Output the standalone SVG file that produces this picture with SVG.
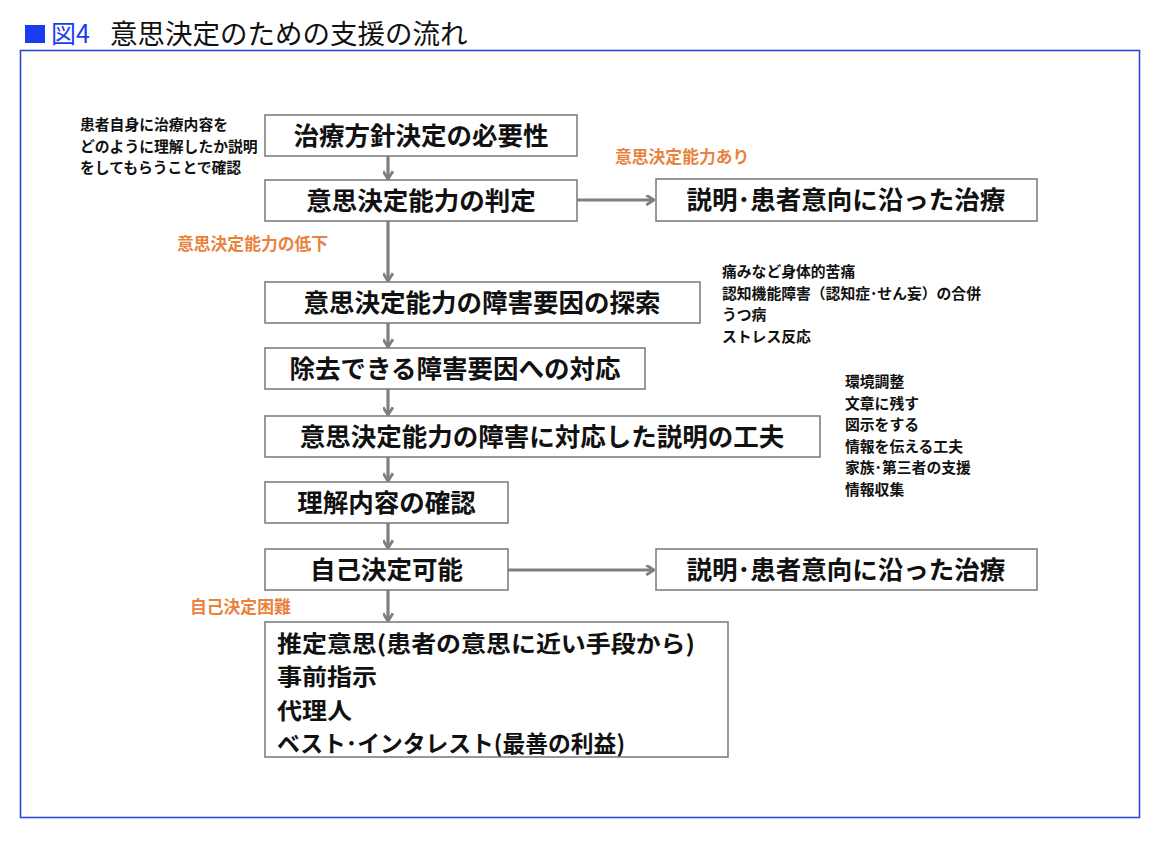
<svg xmlns="http://www.w3.org/2000/svg" width="1166" height="842" viewBox="0 0 1166 842">
<style>
text{font-family:"Noto Sans CJK JP","Noto Sans CJK SC",sans-serif}
.box{fill:#fff;stroke:#7f7f7f;stroke-width:1.6}
.bt{font-size:25.5px;font-weight:bold;fill:#111;text-anchor:middle}
.bl{font-size:23px;font-weight:bold;fill:#111}
.note{font-size:14.8px;font-weight:bold;fill:#111}
.lab{font-size:16.8px;font-weight:bold;fill:#e8823c}
.con{stroke:#7f7f7f;stroke-width:3.2;fill:none}
</style>
<defs>
<marker id="ah" viewBox="0 0 10 10" refX="9" refY="5" markerWidth="11" markerHeight="11" markerUnits="userSpaceOnUse" orient="auto">
<path d="M2,0.5 L9,5 L2,9.5" fill="none" stroke="#7f7f7f" stroke-width="2.6"/>
</marker>
</defs>
<rect width="1166" height="842" fill="#fff"/>
<g id="title">
<rect x="25" y="25" width="20" height="18" fill="#1a3cf0"/>
<text x="51" y="43" font-size="25" fill="#1a3cf0">図4</text>
<text x="110" y="44" font-size="27.5" fill="#111">意思決定のための支援の流れ</text>
</g>
<rect id="frame" x="20.5" y="50.5" width="1119" height="767" fill="none" stroke="#2a4bd7" stroke-width="1.6"/>
<g id="connectors">
<line class="con" x1="388" y1="156" x2="388" y2="179" marker-end="url(#ah)"/>
<line class="con" x1="388" y1="221" x2="388" y2="281" marker-end="url(#ah)"/>
<line class="con" x1="388" y1="323" x2="388" y2="347" marker-end="url(#ah)"/>
<line class="con" x1="388" y1="389" x2="388" y2="415" marker-end="url(#ah)"/>
<line class="con" x1="388" y1="457" x2="388" y2="481" marker-end="url(#ah)"/>
<line class="con" x1="388" y1="523" x2="388" y2="548" marker-end="url(#ah)"/>
<line class="con" x1="388" y1="590" x2="388" y2="621" marker-end="url(#ah)"/>
<line class="con" x1="577" y1="200" x2="654" y2="200" marker-end="url(#ah)"/>
<line class="con" x1="508" y1="570" x2="654" y2="570" marker-end="url(#ah)"/>
</g>
<g id="n1"><rect class="box" x="265" y="115" width="312" height="41"/><text class="bt" x="421" y="144.5">治療方針決定の必要性</text></g>
<g id="n2"><rect class="box" x="265" y="180" width="312" height="41"/><text class="bt" x="421" y="209.5">意思決定能力の判定</text></g>
<g id="n3"><rect class="box" x="656" y="179" width="381" height="42"/><text class="bt" x="846" y="209">説明･患者意向に沿った治療</text></g>
<g id="n4"><rect class="box" x="265" y="282" width="435" height="41"/><text class="bt" x="482" y="311.5">意思決定能力の障害要因の探索</text></g>
<g id="n5"><rect class="box" x="265" y="348" width="380" height="41"/><text class="bt" x="455" y="377.5">除去できる障害要因への対応</text></g>
<g id="n6"><rect class="box" x="265" y="416" width="555" height="41"/><text class="bt" x="542" y="445.5">意思決定能力の障害に対応した説明の工夫</text></g>
<g id="n7"><rect class="box" x="265" y="482" width="243" height="41"/><text class="bt" x="386.5" y="511.5">理解内容の確認</text></g>
<g id="n8"><rect class="box" x="265" y="549" width="243" height="41"/><text class="bt" x="386.5" y="578.5">自己決定可能</text></g>
<g id="n9"><rect class="box" x="656" y="549" width="381" height="41"/><text class="bt" x="846" y="578.5">説明･患者意向に沿った治療</text></g>
<g id="n10"><rect class="box" x="265" y="622" width="463" height="135"/>
<text class="bl" x="277" y="651.5" textLength="418" lengthAdjust="spacingAndGlyphs">推定意思(患者の意思に近い手段から)</text>
<text class="bl" x="277" y="685" textLength="100" lengthAdjust="spacingAndGlyphs">事前指示</text>
<text class="bl" x="277" y="718.5" textLength="75" lengthAdjust="spacingAndGlyphs">代理人</text>
<text class="bl" x="277" y="752" textLength="348" lengthAdjust="spacingAndGlyphs">ベスト･インタレスト(最善の利益)</text>
</g>
<g id="labels">
<text class="lab" x="615" y="162.5">意思決定能力あり</text>
<text class="lab" x="177" y="250">意思決定能力の低下</text>
<text class="lab" x="190" y="613">自己決定困難</text>
</g>
<g id="note-left">
<text class="note" x="80" y="130">患者自身に治療内容を</text>
<text class="note" x="80" y="151.6">どのように理解したか説明</text>
<text class="note" x="80" y="173.2">をしてもらうことで確認</text>
</g>
<g id="note-factors">
<text class="note" x="722" y="277">痛みなど身体的苦痛</text>
<text class="note" x="722" y="298.6">認知機能障害（認知症･せん妄）の合併</text>
<text class="note" x="722" y="320.2">うつ病</text>
<text class="note" x="722" y="341.8">ストレス反応</text>
</g>
<g id="note-methods">
<text class="note" x="845" y="387">環境調整</text>
<text class="note" x="845" y="408.6">文章に残す</text>
<text class="note" x="845" y="430.2">図示をする</text>
<text class="note" x="845" y="451.8">情報を伝える工夫</text>
<text class="note" x="845" y="473.4">家族･第三者の支援</text>
<text class="note" x="845" y="495">情報収集</text>
</g>
</svg>
